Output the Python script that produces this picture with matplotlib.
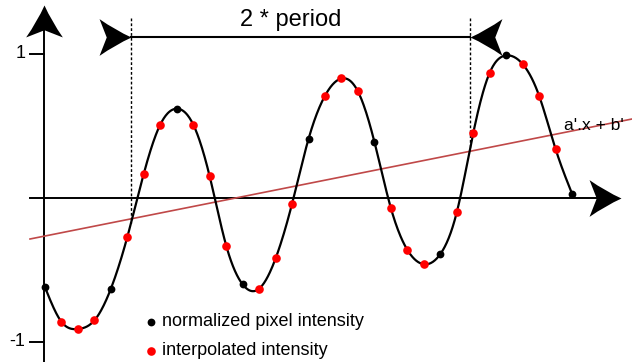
import numpy as np
import matplotlib
matplotlib.use("Agg")
import matplotlib.pyplot as plt
from matplotlib.path import Path

plt.rcParams['font.family'] = ['Liberation Sans', 'DejaVu Sans']

# muestras (índice) y valores
idx = np.arange(33)
valores = [-0.62, -0.86, -0.91, -0.85, -0.63, -0.27, 0.17, 0.51, 0.62, 0.51,
           0.15, -0.33, -0.60, -0.63, -0.42, -0.04, 0.41, 0.71, 0.83, 0.74,
           0.39, -0.07, -0.36, -0.46, -0.39, -0.10, 0.45, 0.87, 0.99, 0.93,
           0.71, 0.34, 0.03]
# cada 4a muestra es pixel normalizado, el resto interpolado
idx_pixel = [0, 4, 8, 12, 16, 20, 24, 28, 32]

# recta a'.x + b'
a_fit = 0.0228
b_fit = -0.264
x_recta = [-0.91, 35.64]

# 2 * period
x_periodo = [5.22, 25.80]

valores = np.array(valores)
es_pixel = np.isin(idx, idx_pixel)


def spline_natural(xk, yk, xs):
    # spline cubico natural solo para dibujar la curva suave
    n = len(xk)
    h = np.diff(xk)
    A = np.zeros((n, n))
    r = np.zeros(n)
    A[0, 0] = A[-1, -1] = 1
    for i in range(1, n - 1):
        A[i, i - 1] = h[i - 1]
        A[i, i] = 2 * (h[i - 1] + h[i])
        A[i, i + 1] = h[i]
        r[i] = 6 * ((yk[i + 1] - yk[i]) / h[i] - (yk[i] - yk[i - 1]) / h[i - 1])
    M = np.linalg.solve(A, r)
    j = np.clip(np.searchsorted(xk, xs) - 1, 0, n - 2)
    hj = h[j]
    t1 = xk[j + 1] - xs
    t0 = xs - xk[j]
    return (M[j] * t1**3 / (6 * hj) + M[j + 1] * t0**3 / (6 * hj)
            + (yk[j] / hj - M[j] * hj / 6) * t1
            + (yk[j + 1] / hj - M[j + 1] * hj / 6) * t0)


def flecha(angulo):
    # punta de flecha con la punta en (0,0)
    verts = np.array([(0, 0), (-1.0, -0.45), (-2, -1.15), (-1.55, 0),
                      (-2, 1.15), (-1.0, 0.45), (0, 0), (0, 0)], float)
    codes = [Path.MOVETO, Path.CURVE3, Path.CURVE3, Path.LINETO,
             Path.LINETO, Path.CURVE3, Path.CURVE3, Path.CLOSEPOLY]
    th = np.deg2rad(angulo)
    R = np.array([[np.cos(th), -np.sin(th)], [np.sin(th), np.cos(th)]])
    return Path(verts @ R.T, codes)


fig = plt.figure(figsize=(6.32, 3.62), dpi=100)
ax = fig.add_axes([0, 0, 1, 1])
ax.set_xlim(-2.732, 35.64)
ax.set_ylim(-1.139, 1.375)
ax.axis("off")

# ejes con flechas
ax.plot([-0.06, -0.06], [-1.2, 1.28], color="black", lw=1.4)
ax.plot([-0.91, 34.5], [0, 0], color="black", lw=1.4)
ax.plot([-0.06], [1.34], marker=flecha(90), markersize=46, color="black", mew=0)
ax.plot([34.97], [0], marker=flecha(0), markersize=46, color="black", mew=0)

# ticks
for v, lab in [(1, "1"), (-1, "-1")]:
    ax.plot([-0.91, -0.06], [v, v], color="black", lw=1.4)
    ax.text(-1.2, v, lab, ha="right", va="center", fontsize=13)

# recta ajustada
xr = np.array(x_recta)
ax.plot(xr, a_fit * xr + b_fit, color="#c04848", lw=1.2, zorder=2)
ax.text(31.5, 0.50, "a'.x + b'", ha="left", va="center", fontsize=12.5)

# curva suave
xs = np.linspace(idx[0], idx[-1], 800)
ys = spline_natural(idx.astype(float), valores, xs)
ax.plot(xs, ys, color="black", lw=1.6, zorder=3)

# puntos
ax.plot(idx[~es_pixel], valores[~es_pixel], "o", color="#ff0000", ms=6.2, mew=0, zorder=4)
ax.plot(idx[es_pixel], valores[es_pixel], "o", color="black", ms=5.6, mew=0, zorder=4)

# lineas punteadas y 2 * period
for xp in x_periodo:
    yb = spline_natural(idx.astype(float), valores, np.array([xp]))[0]
    ax.plot([xp, xp], [1.25, yb], color="black", lw=1.0, linestyle=(0, (2, 1.5)))
ax.plot(x_periodo, [1.118, 1.118], color="black", lw=1.5)
ax.plot([x_periodo[0]], [1.118], marker=flecha(0), markersize=46, color="black", mew=0)
ax.plot([x_periodo[1]], [1.118], marker=flecha(180), markersize=46, color="black", mew=0)
ax.text(14.94, 1.236, "2 * period", ha="center", va="center", fontsize=17)

# leyenda
ax.plot([6.44], [-0.861], "o", color="black", ms=5.6, mew=0)
ax.plot([6.44], [-1.062], "o", color="#ff0000", ms=6.2, mew=0)
ax.text(7.1, -0.861, "normalized pixel intensity", ha="left", va="center", fontsize=13)
ax.text(7.1, -1.062, "interpolated intensity", ha="left", va="center", fontsize=13)

fig.savefig("out.png", dpi=100)
